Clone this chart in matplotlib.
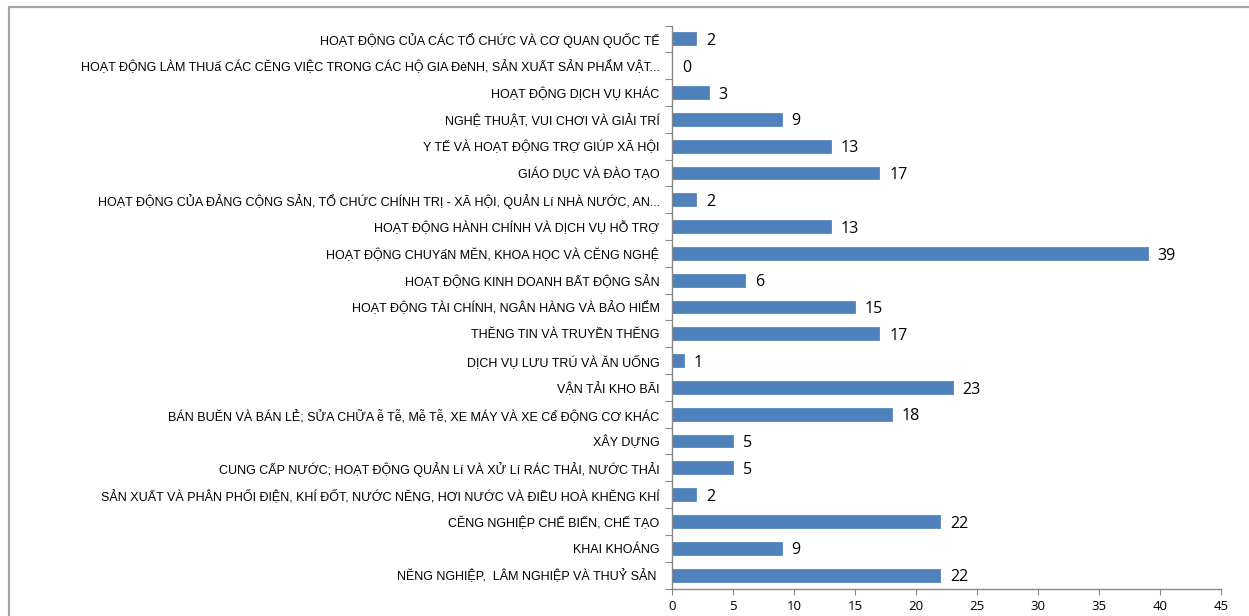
import matplotlib

matplotlib.use("Agg")
import matplotlib.pyplot as plt
from matplotlib.patches import Rectangle

# categories, top to bottom as shown in the chart (text kept as it appears)
categories = [
    "HOẠT ĐỘNG CỦA CÁC TỔ CHỨC VÀ CƠ QUAN QUỐC TẾ",
    "HOẠT ĐỘNG LÀM THUấ CÁC CĔNG VIỆC TRONG CÁC HỘ GIA ĐèNH, SẢN XUẤT SẢN PHẨM VẬT...",
    "HOẠT ĐỘNG DỊCH VỤ KHÁC",
    "NGHỆ THUẬT, VUI CHƠI VÀ GIẢI TRÍ",
    "Y TẾ VÀ HOẠT ĐỘNG TRỢ GIÚP XÃ HỘI",
    "GIÁO DỤC VÀ ĐÀO TẠO",
    "HOẠT ĐỘNG CỦA ĐẢNG CỘNG SẢN, TỔ CHỨC CHÍNH TRỊ - XÃ HỘI, QUẢN Lí NHÀ NƯỚC, AN...",
    "HOẠT ĐỘNG HÀNH CHÍNH VÀ DỊCH VỤ HỖ TRỢ",
    "HOẠT ĐỘNG CHUYấN MĔN, KHOA HỌC VÀ CĔNG NGHỆ",
    "HOẠT ĐỘNG KINH DOANH BẤT ĐỘNG SẢN",
    "HOẠT ĐỘNG TÀI CHÍNH, NGÂN HÀNG VÀ BẢO HIỂM",
    "THĔNG TIN VÀ TRUYỀN THĔNG",
    "DỊCH VỤ LƯU TRÚ VÀ ĂN UỐNG",
    "VẬN TẢI KHO BÃI",
    "BÁN BUĔN VÀ BÁN LẺ; SỬA CHỮA ễ Tễ, Mễ Tễ, XE MÁY VÀ XE Cể ĐỘNG CƠ KHÁC",
    "XÂY DỰNG",
    "CUNG CẤP NƯỚC; HOẠT ĐỘNG QUẢN Lí VÀ XỬ Lí RÁC THẢI, NƯỚC THẢI",
    "SẢN XUẤT VÀ PHÂN PHỐI ĐIỆN, KHÍ ĐỐT, NƯỚC NĔNG, HƠI NƯỚC VÀ ĐIỀU HOÀ KHĔNG KHÍ",
    "CĔNG NGHIỆP CHẾ BIẾN, CHẾ TẠO",
    "KHAI KHOÁNG",
    "NĔNG NGHIỆP,  LÂM NGHIỆP VÀ THUỶ SẢN ",
]
values = [2, 0, 3, 9, 13, 17, 2, 13, 39, 6, 15, 17, 1, 23, 18, 5, 5, 2, 22, 9, 22]
x_ticks = [0, 5, 10, 15, 20, 25, 30, 35, 40, 45]

W, H = 1249, 616
fig = plt.figure(figsize=(W / 100, H / 100), dpi=100)
ax = fig.add_axes([672 / W, 1 - 588.5 / H, (1221 - 672) / W, (588.5 - 25.5) / H])

# outer chart frame (cut off on the right and bottom)
fig.patches.append(Rectangle((9 / W, -0.1), 1.2, 1 - 7 / H + 0.1, transform=fig.transFigure,
                             fill=False, edgecolor="#a6a6a6", linewidth=1.6))

n = len(categories)
ypos = list(range(n))
ax.barh(ypos, values, height=0.48, color="#4f81bd", edgecolor="#4a7ab5", linewidth=0.5)
ax.set_ylim(n - 0.5, -0.5)
ax.set_xlim(0, 45)

label_font = ["Liberation Sans Narrow", "Liberation Sans", "DejaVu Sans"]
ax.set_yticks([i - 0.5 for i in range(n + 1)])
ax.set_yticklabels([])
ax.set_yticks(ypos, minor=True)
ax.set_yticklabels(categories, minor=True, fontsize=9.0, family=label_font)
ax.tick_params(axis="y", which="major", length=5, color="#888888", direction="out")
ax.tick_params(axis="y", which="minor", length=0, pad=9)

ax.set_xticks(x_ticks)
ax.set_xticklabels([str(v) for v in x_ticks], fontsize=9.5, family=["Open Sans", "DejaVu Sans"])
ax.tick_params(axis="x", length=4, color="#888888", direction="out", pad=4)

for s in ["top", "right"]:
    ax.spines[s].set_visible(False)
for s in ["left", "bottom"]:
    ax.spines[s].set_color("#888888")
    ax.spines[s].set_linewidth(1.0)

for y, v in zip(ypos, values):
    ax.text(v + 0.8, y + 0.08, str(v), va="center", ha="left", fontsize=11.5,
            family=["Open Sans", "DejaVu Sans"], color="#000000")

fig.savefig("out.png", dpi=100)
